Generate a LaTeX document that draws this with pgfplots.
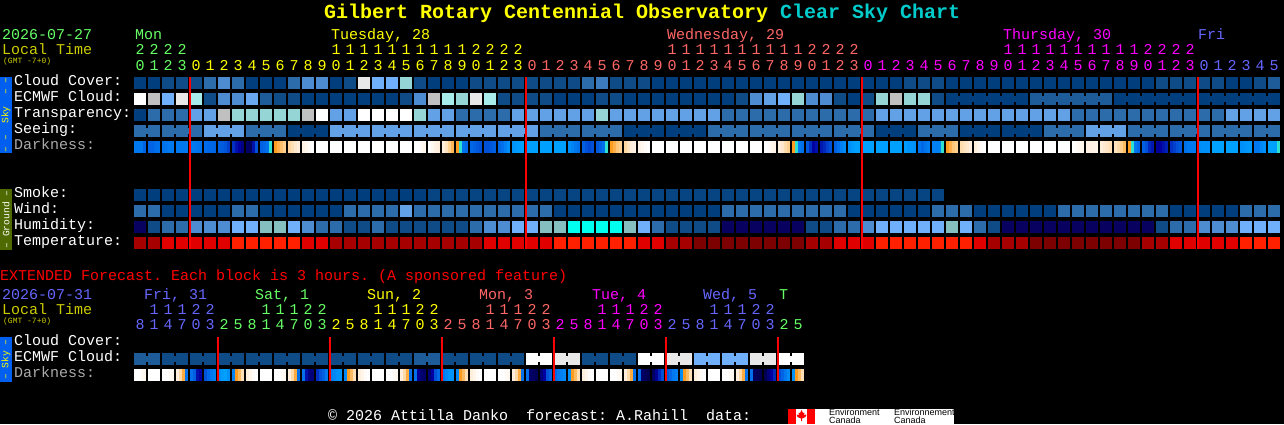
\documentclass[border=0pt]{standalone}
\usepackage{fontspec}
\setmainfont{Liberation Mono}
\newfontfamily\logofont{Liberation Sans}
\usepackage{pgfplots}
\usepackage{pgfplotstable}
\pgfplotsset{compat=1.18}

\definecolor{cgreen}{HTML}{66FF66}
\definecolor{cyellow}{HTML}{FFFF00}
\definecolor{csalmon}{HTML}{FF6666}
\definecolor{cmagenta}{HTML}{FF00FF}
\definecolor{cblue}{HTML}{6666FF}
\definecolor{colive}{HTML}{CCCC00}
\definecolor{ccyan}{HTML}{00CCCC}
\definecolor{cgrey}{HTML}{AAAAAA}
\definecolor{skyblue}{HTML}{005FEF}
\definecolor{groundgreen}{HTML}{4F6A00}

% block shapes, one unit is one pixel of the reference
\pgfdeclareplotmark{cell}{\pgfpathrectangle{\pgfqpoint{-6pt}{-6pt}}{\pgfqpoint{12pt}{12pt}}\pgfusepathqfill}
\pgfdeclareplotmark{joint}{\pgfpathrectangle{\pgfqpoint{-1.2pt}{-3pt}}{\pgfqpoint{2.4pt}{6pt}}\pgfusepathqfill}
\pgfdeclareplotmark{slice}{\pgfpathrectangle{\pgfqpoint{0pt}{-6pt}}{\pgfqpoint{4pt}{12pt}}\pgfusepathqfill}
\pgfdeclareplotmark{lastslice}{\pgfpathrectangle{\pgfqpoint{0pt}{-6pt}}{\pgfqpoint{3pt}{12pt}}\pgfusepathqfill}

% levels 0-17: cloud, humidity and temperature blocks; 18-27: darkness scale
\pgfplotsset{colormap={cds}{
  rgb255(0cm)=(0,62,126) rgb255(1cm)=(15,76,135) rgb255(2cm)=(44,108,171)
  rgb255(3cm)=(77,140,209) rgb255(4cm)=(98,161,230) rgb255(5cm)=(112,176,250)
  rgb255(6cm)=(149,213,213) rgb255(7cm)=(168,236,236) rgb255(8cm)=(192,192,192)
  rgb255(9cm)=(232,232,232) rgb255(10cm)=(255,255,255) rgb255(11cm)=(8,0,94)
  rgb255(12cm)=(133,192,192) rgb255(13cm)=(0,255,240) rgb255(14cm)=(126,0,0)
  rgb255(15cm)=(166,0,0) rgb255(16cm)=(224,0,0) rgb255(17cm)=(255,32,0)
  rgb255(18cm)=(0,0,80) rgb255(19cm)=(0,0,160) rgb255(20cm)=(0,80,216)
  rgb255(21cm)=(0,120,240) rgb255(22cm)=(0,160,255) rgb255(23cm)=(48,224,208)
  rgb255(24cm)=(255,156,30) rgb255(25cm)=(255,208,144) rgb255(26cm)=(255,238,221)
  rgb255(27cm)=(255,255,255)
}}

% col, cloud, ecmwf, transparency, seeing, smoke, wind, humidity, temperature, darkness slices
\pgfplotstableread{
col cc ec tr se sm wi hu te d1 d2 d3 d4
0 0 10 0 2 0 2 11 15 3 3 3 2.5
1 0 8 2 2 0 2 1 15 2.5 2.5 2.7 2.8
2 1 5 2 2 0 0 2 16 2.8 2.9 3 3
3 1 9 2 2 0 0 2 16 3 3 3 3
4 1 7 4 2 0 0 3 16 3 3 2.9 2.8
5 2 1 4 4 0 0 3 16 2.7 2.6 2.6 2.5
6 3 3 8 4 0 0 3 16 2.4 2.3 2.1 1.8
7 2 3 6 4 0 2 5 17 1.6 1.2 1 .6
8 0 4.5 6 2 0 2 5 17 .3 .2 1.2 2
9 0 1.5 6 2 0 0 12 17 2.4 2.6 2.8 5
10 0 1 6 2 0 0 12 17 6 6.4 6.7 7
11 2 1 6 0 0 0 5 17 7.2 7.5 7.8 8
12 3 0 8 0 0 0 3 16 8.2 8.5 8.8 9
13 3 0 10 0 0 0 2 16 9 9 9 9
14 0 0 4 4 0 0 2 15 9 9 9 9
15 1 0 4 4 0 2 1 15 9 9 9 9
16 9 0 10 4 0 2 1 15 9 9 9 9
17 5 0 10 4 0 2 2 15 9 9 9 9
18 5 0 10 4 0 2 1 15 9 9 9 9
19 6 1 10 4 0 4 1 15 9 9 9 9
20 1 3 6 4 0 2 1 15 9 9 8.7 8.5
21 0 8 4 4 .4 2 1 15 9 8.6 8.2 8
22 0 7 4 4 .4 2 1 15 8 7.6 7 6.5
23 0 6 2 4 .4 2 1 15 6 5 2.9 2.7
24 1 9 2 4 .4 2 2 15 2.6 2.4 2.2 2
25 1 7 2 4 .4 2 3 16 2 2 2.2 2.4
26 1 1 2 4 .4 2 3 16 2.6 2.8 3.2 3.6
27 1 1 4 4 .4 2 5 16 3.7 3.8 3.9 4
28 1 1 4 4 .4 2 5 16 4 4 4 4
29 1 1 4 2 .4 2 12 16 4 4 4 4
30 1 0 4 2 .4 0 12 17 4 4 4 4
31 1 0 4 2 .4 0 13 17 3.6 3.3 3 2.8
32 2 0 4 2 .4 0 13 17 2.4 2 1.9 2
33 2.5 1 6 2 .4 0 13 17 2.2 2.5 2.8 5
34 1 1 4 2 .4 0 13 17 6 6.4 6.8 7
35 1 0 4 0 .4 0 12 17 7.2 7.6 8 8.2
36 1 0 4 0 .4 0 5 16 8.3 8.6 8.8 9
37 0 0 4 0 .4 0 2 16 9 9 9 9
38 0 0 4 0 .4 0 1 15 9 9 9 9
39 0 0 4 0 .4 0 1 15 9 9 9 9
40 0 0 4 0 .4 0 1 14 9 9 9 9
41 0 0 4 2 .4 0 1 14 9 9 9 9
42 0 0 2 2 .4 2 11 14 9 9 9 9
43 0 1 2 2 .4 2 11 14 9 9 9 9
44 0 3 2 2 .4 2 11 14 9 9 9 9
45 0 4 2 2 .4 2 11 14 9 8.8 8.5 8.3
46 0 5 2 2 .4 2 11 14 8 7.8 7.4 7
47 0 6 2 2 .4 2 11 14 6 5 3 2.8
48 0 3 2 2 .4 2 1 15 2.2 1.6 1 1.2
49 0 3 2 2 .4 2 1 15 1.3 1.5 1.8 2
50 0 1 2 2 .4 2 2 16 2.4 2.8 3.2 3.5
51 0 0 2 2 .4 0 2 16 3.6 3.8 4 4
52 0 1 2 2 .4 0 3 16 4 4 4 4
53 0 6 4 0 .4 0 5 17 4 4 4 4
54 0 8 4 0 .4 0 5 17 4 4 4 4
55 1 6 4 0 .4 0 5 17 3.9 3.7 3.7 3.6
56 1 6 4 2 .4 0 5 17 2.9 2.6 2.9 3.1
57 1 1 4 2 .4 2 5 17 3.2 3.2 3.3 5
58 0 0 4 2 0 2 12 17 6 6.4 6.8 7
59 0 0 4 0 0 2 5 17 7.4 7.6 7.8 8
60 0 0 4 0 0 0 2 16 8 8.4 8.8 9
61 0 0 4 0 0 0 1 15 9 9 9 9
62 0 0 4 0 0 0 11 15 9 9 9 9
63 0 0 4 0 0 0 11 15 9 9 9 9
64 0 1.5 4 0 0 0 11 14 9 9 9 9
65 0 1.5 4 2 0 0 11 14 9 9 9 9
66 0 1.5 4 2 0 2 11 14 9 9 9 9
67 0 1.5 2 2 0 2 11 14 9 8.8 8.6 8.5
68 0 1.5 2 4 0 2 11 14 8.2 8.2 8.3 8.4
69 0 1.5 2 4 0 2 11 14 8 7.8 7.7 7.5
70 0 0 2 4 0 2 11 14 7.6 7.3 7 6.6
71 0 0 2 2 0 2 11 14 6 5 3 2.6
72 0 0 2 2 0 2 11 15 2.4 2 1.5 1.3
73 1 0 2 2 0 2 1 15 .9 1 1.2 1.4
74 1 0 2 2 0 0 2 16 1.6 1.8 2 2.2
75 1 0 2 2 0 0 2 16 2.8 3 3 3
76 1 0 2 2 0 0 3 16 3.5 3.6 3.6 3.6
77 1 0 2 2 0 0 3 16 4 4 4 4
78 0 0 4 2 0 0 3 16 4 4 4 4
79 0 0 4 2 0 2 5 17 3.6 3.7 3.8 3.8
80 1 0 4 2 0 2 5 17 3 3 3.4 3.6
81 1.5 0 4 2 0 2 5 17 4 4 4 5
}\mainchart

% extended forecast, 3-hour blocks
\pgfplotstableread{
col ec d1 d2 d3 d4
0 1.5 9 9 8.8 8.5
1 1.5 9 9 9 9
2 1 9 9 8.8 8.6
3 1 8 7.3 6.3 2.8
4 1 2.8 2.4 1.2 1
5 1 2 2.6 3 3.2
6 1 3.6 3.9 4 3.6
7 1 3.2 6 6.6 7.5
8 1 8 8.4 8.8 9
9 1 9 9 9 9
10 1 9 9 8.8 8.6
11 1 8 7.3 6.3 2.8
12 1 2.8 1.2 .6 .5
13 1 1.6 2 2.4 3
14 1 3.2 3.4 3.6 3.7
15 1 3.4 6 6.6 7.5
16 1 8 8.4 8.8 9
17 1 9 9 9 9
18 1 9 9 8.8 8.6
19 1 8 7.3 6.3 2.8
20 1.5 2.8 .9 .4 .3
21 1.5 .4 1 2 2.6
22 1 3 3.4 3.7 3.7
23 1 3.4 6 6.6 7.5
24 1 8 8.4 8.8 9
25 1 9 9 9 9
26 1 9 9 8.8 8.6
27 1 8 7.3 6.3 2.8
28 10 2.8 .3 .2 .1
29 10 .5 1 2 2.4
30 9 2.6 3 3.2 3.4
31 9 3.6 6 6.6 7.5
32 1 8 8.4 8.8 9
33 1 9 9 9 9
34 1 9 9 8.8 8.6
35 1 8 7.3 6.3 2.8
36 10 2.8 .3 .1 0
37 10 .2 .8 1.5 2
38 9 2.2 2.6 3 3.2
39 9 3.5 6 6.6 7.5
40 5 8 8.4 8.8 9
41 5 9 9 9 9
42 5 9 9 8.8 8.6
43 5 8 7.3 6.3 2.8
44 9 2.8 .2 .1 0
45 9 0 .5 1 1.5
46 10 2 2.5 3 3.5
47 10 3.6 6 6.6 7.5
}\extchart

\pgfplotsset{
  blocks/.style={scatter, only marks, mark=cell, scatter src=explicit},
  joints/.style={scatter, only marks, mark=joint, scatter src=explicit},
  slices/.style={scatter, only marks, mark=slice, scatter src=explicit},
  lastslices/.style={scatter, only marks, mark=lastslice, scatter src=explicit},
  midnight/.style={red, line width=2pt, no marks},
}
\tikzset{
  lab/.style={anchor=base west, inner sep=0pt, font=\fontsize{15}{15}\selectfont},
  dig/.style={anchor=base, inner sep=0pt, font=\fontsize{15}{15}\selectfont},
  tiny/.style={anchor=base west, inner sep=0pt, font=\fontsize{8}{8}\selectfont, text=colive},
  side/.style={rotate=90, inner sep=0pt, font=\fontsize{9.6}{9.6}\selectfont},
}

\begin{document}
\frenchspacing
\begin{tikzpicture}
\begin{axis}[
    width=1284pt, height=424pt, scale only axis,
    xmin=0, xmax=1284, ymin=0, ymax=424, y dir=reverse,
    ticks=none, axis line style={draw=none},
    axis background/.style={fill=black},
    clip mode=individual,
    colormap name=cds, point meta min=0, point meta max=27,
]
% main chart rows
\addplot[blocks] table[x expr=140+14*\thisrow{col}, y expr=83, meta=cc] {\mainchart};
\addplot[blocks] table[x expr=140+14*\thisrow{col}, y expr=99, meta=ec] {\mainchart};
\addplot[joints, restrict expr to domain={mod(\thisrow{col}+2,6)}{0:4}, restrict x to domain=959:1267]
  table[x expr=147+14*\thisrow{col}, y expr=99, meta=ec] {\mainchart};
\addplot[blocks] table[x expr=140+14*\thisrow{col}, y expr=115, meta=tr] {\mainchart};
\addplot[blocks] table[x expr=140+14*\thisrow{col}, y expr=131, meta=se] {\mainchart};
\addplot[joints, restrict expr to domain={mod(\thisrow{col}+2,3)}{1:2}, restrict x to domain=0:1270]
  table[x expr=147+14*\thisrow{col}, y expr=131, meta=se] {\mainchart};
\addplot[slices] table[x expr=134+14*\thisrow{col}, y expr=147, meta expr=18+\thisrow{d1}] {\mainchart};
\addplot[slices] table[x expr=137+14*\thisrow{col}, y expr=147, meta expr=18+\thisrow{d2}] {\mainchart};
\addplot[slices] table[x expr=140+14*\thisrow{col}, y expr=147, meta expr=18+\thisrow{d3}] {\mainchart};
\addplot[lastslices] table[x expr=143+14*\thisrow{col}, y expr=147, meta expr=18+\thisrow{d4}] {\mainchart};
\addplot[blocks, restrict x to domain=0:940] table[x expr=140+14*\thisrow{col}, y expr=195, meta=sm] {\mainchart};
\addplot[blocks] table[x expr=140+14*\thisrow{col}, y expr=211, meta=wi] {\mainchart};
\addplot[blocks] table[x expr=140+14*\thisrow{col}, y expr=227, meta=hu] {\mainchart};
\addplot[blocks] table[x expr=140+14*\thisrow{col}, y expr=243, meta=te] {\mainchart};

% extended rows
\addplot[blocks] table[x expr=140+14*\thisrow{col}, y expr=359, meta=ec] {\extchart};
\addplot[joints, restrict expr to domain={mod(\thisrow{col},2)}{0:0}]
  table[x expr=147+14*\thisrow{col}, y expr=359, meta=ec] {\extchart};
\addplot[slices] table[x expr=134+14*\thisrow{col}, y expr=375, meta expr=18+\thisrow{d1}] {\extchart};
\addplot[slices] table[x expr=137+14*\thisrow{col}, y expr=375, meta expr=18+\thisrow{d2}] {\extchart};
\addplot[slices] table[x expr=140+14*\thisrow{col}, y expr=375, meta expr=18+\thisrow{d3}] {\extchart};
\addplot[lastslices] table[x expr=143+14*\thisrow{col}, y expr=375, meta expr=18+\thisrow{d4}] {\extchart};

% midnight lines
\addplot[midnight] coordinates {(190,77) (190,249)};
\addplot[midnight] coordinates {(526,77) (526,249)};
\addplot[midnight] coordinates {(862,77) (862,249)};
\addplot[midnight] coordinates {(1198,77) (1198,249)};
\addplot[midnight] coordinates {(218,337) (218,381)};
\addplot[midnight] coordinates {(330,337) (330,381)};
\addplot[midnight] coordinates {(442,337) (442,381)};
\addplot[midnight] coordinates {(554,337) (554,381)};
\addplot[midnight] coordinates {(666,337) (666,381)};
\addplot[midnight] coordinates {(778,337) (778,381)};

% title
\node[anchor=base west, inner sep=0pt, font=\fontsize{20}{20}\selectfont\bfseries, text=cyellow] at (axis cs:324,18) {Gilbert Rotary Centennial Observatory};
\node[anchor=base west, inner sep=0pt, font=\fontsize{20}{20}\selectfont\bfseries, text=ccyan] at (axis cs:780,18) {Clear Sky Chart};

% header of the main chart
\node[lab, text=cgreen] at (axis cs:2,39) {2026-07-27};
\node[lab, text=colive] at (axis cs:2,54) {Local Time};
\node[tiny] at (axis cs:3,63) {(GMT -7+0)};
\node[lab, text=cgreen] at (axis cs:135,39) {Mon};
\node[lab, text=cyellow] at (axis cs:331,39) {Tuesday, 28};
\node[lab, text=csalmon] at (axis cs:667,39) {Wednesday, 29};
\node[lab, text=cmagenta] at (axis cs:1003,39) {Thursday, 30};
\node[lab, text=cblue] at (axis cs:1198,39) {Fri};

\pgfplotsforeachungrouped \kk in {0,...,81} {
  \pgfmathtruncatemacro\hh{mod(\kk+20,24)}
  \pgfmathtruncatemacro\ones{mod(\hh,10)}
  \pgfmathtruncatemacro\tens{\hh/10}
  \pgfmathsetmacro\xx{140+14*\kk}
  \ifnum\kk<4 \def\cc{cgreen}\else\ifnum\kk<28 \def\cc{cyellow}\else\ifnum\kk<52 \def\cc{csalmon}\else\ifnum\kk<76 \def\cc{cmagenta}\else\def\cc{cblue}\fi\fi\fi\fi
  \edef\tmp{\noexpand\node[dig, text=\cc] at (axis cs:\xx,70) {\ones};}\tmp
  \ifnum\tens>0 \edef\tmp{\noexpand\node[dig, text=\cc] at (axis cs:\xx,54) {\tens};}\tmp\fi
}

% row labels
\node[lab, text=white] at (axis cs:14,85) {Cloud Cover:};
\node[lab, text=white] at (axis cs:14,101) {ECMWF Cloud:};
\node[lab, text=white] at (axis cs:14,117) {Transparency:};
\node[lab, text=white] at (axis cs:14,133) {Seeing:};
\node[lab, text=cgrey] at (axis cs:14,149) {Darkness:};
\node[lab, text=white] at (axis cs:14,197) {Smoke:};
\node[lab, text=white] at (axis cs:14,213) {Wind:};
\node[lab, text=white] at (axis cs:14,229) {Humidity:};
\node[lab, text=white] at (axis cs:14,245) {Temperature:};

% side panels
\fill[skyblue] (axis cs:0,77) rectangle (axis cs:12,153);
\node[side, text=cyellow] at (axis cs:6,115) {–~–~~Sky~~–~–};
\fill[groundgreen] (axis cs:0,189) rectangle (axis cs:12,250);
\node[side, text=white] at (axis cs:6,219.5) {–~Ground~–};
\fill[skyblue] (axis cs:0,337) rectangle (axis cs:12,382);
\node[side, text=cyellow] at (axis cs:6,359.5) {–~Sky~–};

% extended forecast header
\node[lab, text=red] at (axis cs:0,280) {EXTENDED Forecast. Each block is 3 hours. (A sponsored feature)};
\node[lab, text=cblue] at (axis cs:2,299) {2026-07-31};
\node[lab, text=colive] at (axis cs:2,314) {Local Time};
\node[tiny] at (axis cs:3,323) {(GMT -7+0)};
\node[lab, text=cblue] at (axis cs:144,299) {Fri, 31};
\node[lab, text=cgreen] at (axis cs:255,299) {Sat, 1};
\node[lab, text=cyellow] at (axis cs:367,299) {Sun, 2};
\node[lab, text=csalmon] at (axis cs:479,299) {Mon, 3};
\node[lab, text=cmagenta] at (axis cs:592,299) {Tue, 4};
\node[lab, text=cblue] at (axis cs:703,299) {Wed, 5};
\node[lab, text=cgreen] at (axis cs:779,299) {T};

\pgfplotsforeachungrouped \kk in {0,...,47} {
  \pgfmathtruncatemacro\hh{mod(8+3*\kk,24)}
  \pgfmathtruncatemacro\ones{mod(\hh,10)}
  \pgfmathtruncatemacro\tens{\hh/10}
  \pgfmathsetmacro\xx{140+14*\kk}
  \ifnum\kk<6 \def\cc{cblue}\else\ifnum\kk<14 \def\cc{cgreen}\else\ifnum\kk<22 \def\cc{cyellow}\else\ifnum\kk<30 \def\cc{csalmon}\else\ifnum\kk<38 \def\cc{cmagenta}\else\ifnum\kk<46 \def\cc{cblue}\else\def\cc{cgreen}\fi\fi\fi\fi\fi\fi
  \edef\tmp{\noexpand\node[dig, text=\cc] at (axis cs:\xx,329.5) {\ones};}\tmp
  \ifnum\tens>0 \edef\tmp{\noexpand\node[dig, text=\cc] at (axis cs:\xx,314) {\tens};}\tmp\fi
}

\node[lab, text=white] at (axis cs:14,345) {Cloud Cover:};
\node[lab, text=white] at (axis cs:14,361) {ECMWF Cloud:};
\node[lab, text=cgrey] at (axis cs:14,377) {Darkness:};

% footer and logo
\node[lab, text=white] at (axis cs:328,420) {© 2026 Attilla Danko~~forecast: A.Rahill~~data:};
\fill[white] (axis cs:788,409) rectangle (axis cs:954,424);
\fill[red] (axis cs:788,409) rectangle (axis cs:796,424);
\fill[red] (axis cs:807,409) rectangle (axis cs:815,424);
\fill[red] (axis cs:801.5,410) -- (axis cs:803,413) -- (axis cs:804.5,412.5) -- (axis cs:804,415) -- (axis cs:806.5,414.5) -- (axis cs:805.5,417) -- (axis cs:802,418.5) -- (axis cs:802,421) -- (axis cs:801,421) -- (axis cs:801,418.5) -- (axis cs:797.5,417) -- (axis cs:796.5,414.5) -- (axis cs:799,415) -- (axis cs:798.5,412.5) -- (axis cs:800,413) -- cycle;
\node[anchor=base west, inner sep=0pt, font=\logofont\fontsize{9}{9}\selectfont, text=black] at (axis cs:829,415.5) {Environment};
\node[anchor=base west, inner sep=0pt, font=\logofont\fontsize{9}{9}\selectfont, text=black] at (axis cs:829,423.5) {Canada};
\node[anchor=base west, inner sep=0pt, font=\logofont\fontsize{9}{9}\selectfont, text=black] at (axis cs:894,415.5) {Environnement};
\node[anchor=base west, inner sep=0pt, font=\logofont\fontsize{9}{9}\selectfont, text=black] at (axis cs:894,423.5) {Canada};
\end{axis}
\end{tikzpicture}
\end{document}
